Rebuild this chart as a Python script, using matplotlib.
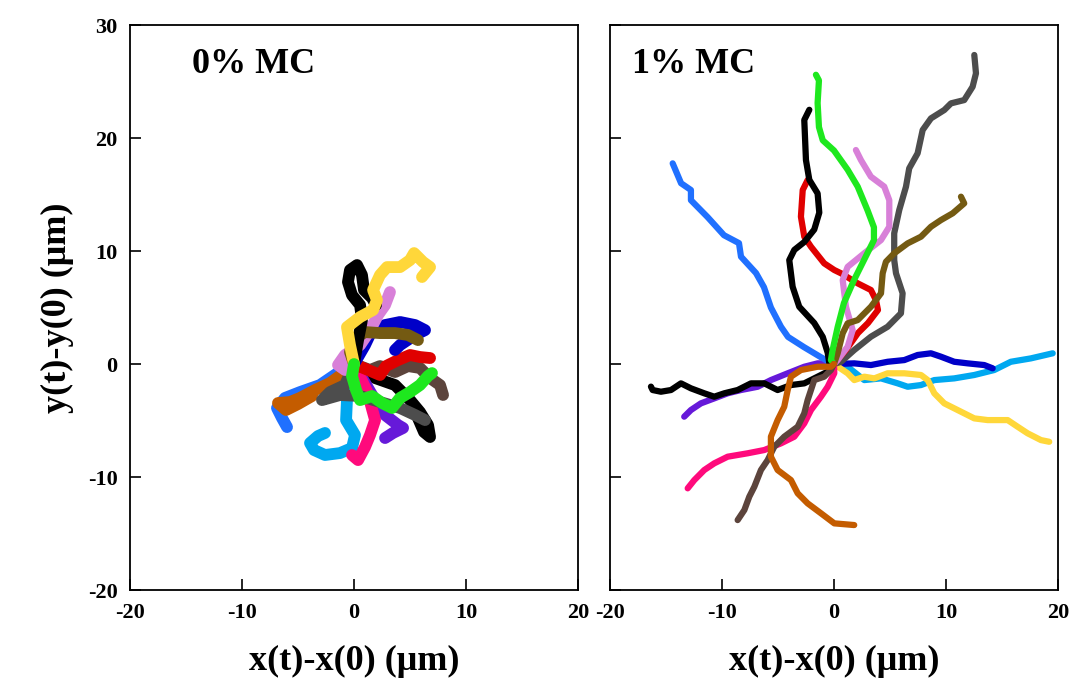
import matplotlib
import matplotlib.pyplot as plt

matplotlib.use("Agg")

# colours used by the tracks
BLUE    = "#2070ff"
BLACK   = "#000000"
RED     = "#e00000"
GREEN   = "#1ee81e"
ORCHID  = "#d880d8"
GRAY    = "#4d4d4d"
OLIVE   = "#745a12"
NAVY    = "#0000c8"
CYAN    = "#00a8f0"
YELLOW  = "#ffd73a"
PURPLE  = "#6619d9"
PINK    = "#ff0a7c"
DBROWN  = "#5c443c"
ORANGE  = "#c45c00"

# ---- 0% MC tracks (um) ----
l_blue_x   = [0, -0.8, -3.04, -4.82, -6.16, -6.88, -6.43, -5.98]
l_blue_y   = [0, -0.35, -1.86, -2.48, -3.0, -3.89, -4.78, -5.58]
l_orange_x = [0, -0.8, -2.14, -3.48, -4.82, -5.71, -6.79, -6.07, -5.0, -3.75]
l_orange_y = [0, -0.71, -1.68, -2.3, -3.0, -3.36, -3.45, -4.07, -3.54, -2.83]
l_black2_x = [0, 1.88, 3.66, 5.0, 5.89, 6.61, 6.79, 6.25, 5.71]
l_black2_y = [0, -1.24, -1.86, -3.19, -4.25, -5.4, -6.46, -6.02, -4.78]
l_purple_x = [0, 1.88, 2.77, 3.93, 4.38, 3.48, 2.77]
l_purple_y = [0, -3.19, -4.51, -5.4, -5.66, -6.1, -6.55]
l_cyan_x   = [0, -0.36, -0.63, -0.71, 0.09, -0.18, -1.25, -2.59, -3.57, -3.93, -3.21, -2.59]
l_cyan_y   = [0, -1.42, -3.19, -4.96, -6.28, -7.43, -7.88, -8.05, -7.61, -6.99, -6.37, -6.1]
l_pink_x   = [0, 1.2, 1.88, 1.43, 0.98, 0.36, -0.18]
l_pink_y   = [0, -2.5, -4.96, -6.28, -7.35, -8.5, -8.05]
l_gray_x   = [0, -0.8, -2.14, -2.86, -1.25, 0.54, 2.32, 4.11, 5.45, 6.34]
l_gray_y   = [0, -1.86, -2.48, -3.19, -2.74, -2.83, -3.36, -3.89, -4.51, -4.96]
l_dbrown_x = [0, 1.43, 2.32, 3.66, 4.82, 5.89, 6.79, 7.68, 7.95]
l_dbrown_y = [0, -0.53, -0.18, -0.71, -0.18, -0.35, -1.24, -1.86, -2.74]
l_red_x    = [0, 2.32, 2.86, 3.93, 5.0, 5.89, 6.79]
l_red_y    = [0, -0.97, -0.18, 0.35, 0.8, 0.62, 0.53]
l_navy_x   = [0, 0.98, 1.61, 2.77, 4.11, 5.45, 6.34, 5.45, 4.11, 3.66]
l_navy_y   = [0, 1.68, 3.0, 3.45, 3.72, 3.45, 3.0, 2.57, 1.68, 1.24]
l_orchid_x = [0, -0.8, -1.43, -0.8, 0.54, 1.43, 2.14, 2.77, 3.21]
l_orchid_y = [0, -0.53, -0.09, 0.8, 1.68, 3.0, 4.34, 5.22, 6.37]
l_olive_x  = [0, -0.36, 0.09, 0.98, 2.32, 3.66, 4.82, 5.71]
l_olive_y  = [0, 1.06, 2.3, 2.83, 2.74, 2.74, 2.57, 2.12]
l_black1_x = [0, 0.36, 0.71, 0.54, -0.18, -0.54, -0.36, 0.27, 0.71, 0.89, 1.61, 1.96]
l_black1_y = [0, 2.12, 3.89, 5.22, 6.1, 7.26, 8.32, 8.76, 7.88, 6.55, 5.84, 5.22]
l_yellow_x = [0, -0.36, -0.63, 0.54, 1.7, 2.05, 1.7, 2.32, 2.95, 4.11, 5.0, 5.36, 6.16, 6.79, 6.07]
l_yellow_y = [0, 1.68, 3.27, 4.16, 4.78, 5.66, 6.55, 7.88, 8.58, 8.58, 9.2, 9.82, 9.03, 8.58, 7.7]
l_green_x  = [0, -0.18, 0.18, 0.54, 1.61, 2.5, 3.39, 4.11, 5.0, 5.89, 6.61, 6.96]
l_green_y  = [0, -1.06, -2.3, -3.19, -2.83, -3.45, -3.89, -3.0, -2.48, -1.86, -1.06, -0.8]

# ---- 1% MC tracks (um) ----
r_purple_x = [0, -0.27, -1.46, -2.65, -4.13, -5.63, -6.81, -8.3, -9.49, -10.69, -11.88, -12.77, -13.37]
r_purple_y = [0, 0.06, 0.06, -0.24, -0.82, -1.42, -2.01, -2.3, -2.59, -3.04, -3.48, -4.07, -4.66]
r_blackl_x = [0, -0.27, -1.46, -2.65, -3.84, -5.03, -6.22, -7.41, -8.6, -9.79, -10.69, -11.58, -12.77,
              -13.66, -14.55, -15.45, -16.19, -16.34]
r_blackl_y = [0, -0.53, -1.12, -1.71, -1.86, -2.3, -1.71, -1.71, -2.3, -2.59, -2.89, -2.59, -2.15,
              -1.71, -2.3, -2.45, -2.3, -2.0]
r_blue_x   = [0, -0.27, -1.16, -2.68, -4.1, -4.73, -5.63, -6.25, -6.96, -8.3, -8.48, -9.82, -11.28,
              -12.77, -12.77, -13.65, -14.4]
r_blue_y   = [0, 0.1, 0.6, 1.5, 2.4, 3.3, 5.0, 6.8, 8.05, 9.5, 10.7, 11.4, 13.0, 14.5, 15.4, 16.0, 17.76]
r_cyan_x   = [0, 1.22, 2.71, 4.2, 5.69, 6.58, 7.77, 8.96, 10.74, 12.53, 14.31, 15.79, 17.58, 19.53]
r_cyan_y   = [0, -0.24, -1.42, -1.27, -1.71, -2.01, -1.86, -1.42, -1.27, -0.97, -0.53, 0.2, 0.5, 0.95]
r_navy_x   = [0, 1.81, 3.3, 4.79, 6.28, 7.47, 8.66, 9.55, 10.74, 11.94, 13.42, 14.17]
r_navy_y   = [0, 0.06, -0.09, 0.2, 0.35, 0.8, 0.95, 0.65, 0.2, 0.06, -0.09, -0.38]
r_yellow_x = [0, 1.22, 1.81, 2.71, 3.6, 4.79, 6.28, 7.77, 8.37, 8.96, 9.85, 11.04, 12.53, 13.72,
              15.51, 16.4, 17.29, 18.48, 19.22]
r_yellow_y = [0, -0.82, -1.42, -1.12, -1.27, -0.82, -0.82, -0.97, -1.42, -2.59, -3.48, -4.07, -4.81,
              -4.96, -4.96, -5.55, -6.13, -6.73, -6.88]
r_gray_x   = [0, 0.63, 1.81, 3.3, 4.79, 5.98, 6.13, 5.54, 5.38, 5.38, 5.83, 6.43, 6.72, 7.47, 7.92,
              8.66, 9.85, 10.45, 11.63, 12.38, 12.68, 12.53]
r_gray_y   = [0, 0.2, 1.24, 2.42, 3.3, 4.49, 6.26, 8.03, 9.2, 11.57, 13.63, 15.69, 17.32, 18.65, 20.71,
              21.74, 22.48, 23.07, 23.36, 24.54, 25.73, 27.35]
r_red_x    = [0, 1.07, 2.14, 3.04, 3.93, 3.75, 3.3, 2.12, 0.63, 0.03, -0.87, -2.05, -2.65, -2.95,
              -2.79, -2.35]
r_red_y    = [0, 1.24, 2.74, 3.63, 4.78, 5.66, 6.55, 7.14, 8.03, 8.32, 8.91, 10.38, 11.27, 13.04,
              15.4, 16.28]
r_orchid_x = [0, 0.33, 1.22, 1.67, 1.07, 0.78, 1.22, 2.7, 4.2, 4.94, 4.94, 4.49, 3.3, 2.41, 1.96]
r_orchid_y = [0, 0.35, 1.53, 3.0, 5.07, 7.43, 8.6, 9.8, 10.97, 12.15, 14.5, 15.7, 16.58, 18.05, 18.94]
r_olive_x  = [0, 0.33, 0.78, 1.22, 2.12, 3.3, 4.2, 4.35, 4.64, 5.38, 6.58, 7.77, 8.66, 9.55, 10.6,
              11.63, 11.34]
r_olive_y  = [0, 0.95, 2.72, 3.6, 3.89, 5.07, 6.26, 8.03, 9.05, 9.8, 10.68, 11.27, 12.15, 12.74,
              13.34, 14.22, 14.81]
r_blacku_x = [0, -0.42, -0.56, -1.0, -1.76, -3.1, -3.69, -3.99, -3.54, -2.65, -1.76, -1.31, -1.46,
              -2.2, -2.5, -2.65, -2.2]
r_blacku_y = [0, 0.1, 1.0, 2.4, 3.63, 5.07, 6.84, 9.2, 10.1, 10.8, 11.9, 13.4, 15.1, 16.3, 18.05,
              21.6, 22.5]
r_green_x  = [0, -0.27, -0.12, 0.33, 0.89, 1.79, 2.68, 3.57, 3.57, 3.0, 2.12, 1.22, 0, -1.0, -1.34,
              -1.46, -1.34, -1.61]
r_green_y  = [0, 0.35, 1.24, 3.27, 5.4, 7.43, 9.2, 10.97, 12.1, 13.6, 15.7, 17.2, 18.9, 19.8, 20.97,
              23.1, 25.1, 25.6]
r_pink_x   = [0, 0.03, -0.56, -1.16, -2.05, -2.65, -3.54, -4.73, -6.22, -7.71, -9.49, -10.69,
              -11.58, -12.47, -13.06]
r_pink_y   = [0, -0.82, -2.01, -2.89, -4.07, -5.25, -6.43, -7.02, -7.61, -7.9, -8.2, -8.79, -9.38,
              -10.27, -11.0]
r_dbrown_x = [0, -0.27, -0.87, -1.76, -2.35, -2.65, -3.24, -4.44, -5.33, -5.92, -6.52, -7.11, -7.56,
              -8.0, -8.6]
r_dbrown_y = [0, -0.53, -1.12, -1.42, -3.19, -4.36, -5.55, -6.43, -7.32, -8.5, -9.38, -10.86,
              -11.74, -12.92, -13.81]
r_orange_x = [0, -0.27, -1.46, -2.95, -3.84, -4.13, -4.44, -5.03, -5.63, -5.63, -5.03, -3.84, -3.24,
              -2.35, -1.16, 0.03, 1.81]
r_orange_y = [0, -0.24, -0.24, -0.53, -1.12, -2.3, -3.78, -4.96, -6.43, -8.2, -9.38, -10.27, -11.44,
              -12.33, -13.21, -14.1, -14.25]

X_TICKS = [-20, -10, 0, 10, 20]
Y_TICKS = [-20, -10, 0, 10, 20, 30]
PANEL_TITLES = ["0% MC", "1% MC"]

left_tracks = [
    (l_blue_x, l_blue_y, BLUE), (l_orange_x, l_orange_y, ORANGE),
    (l_black2_x, l_black2_y, BLACK), (l_purple_x, l_purple_y, PURPLE),
    (l_cyan_x, l_cyan_y, CYAN), (l_pink_x, l_pink_y, PINK),
    (l_gray_x, l_gray_y, GRAY), (l_dbrown_x, l_dbrown_y, DBROWN),
    (l_red_x, l_red_y, RED), (l_navy_x, l_navy_y, NAVY),
    (l_orchid_x, l_orchid_y, ORCHID), (l_olive_x, l_olive_y, OLIVE),
    (l_black1_x, l_black1_y, BLACK), (l_yellow_x, l_yellow_y, YELLOW),
    (l_green_x, l_green_y, GREEN),
]
right_tracks = [
    (r_purple_x, r_purple_y, PURPLE), (r_blackl_x, r_blackl_y, BLACK),
    (r_blue_x, r_blue_y, BLUE), (r_cyan_x, r_cyan_y, CYAN),
    (r_navy_x, r_navy_y, NAVY), (r_yellow_x, r_yellow_y, YELLOW),
    (r_gray_x, r_gray_y, GRAY), (r_red_x, r_red_y, RED),
    (r_orchid_x, r_orchid_y, ORCHID), (r_olive_x, r_olive_y, OLIVE),
    (r_blacku_x, r_blacku_y, BLACK), (r_green_x, r_green_y, GREEN),
    (r_pink_x, r_pink_y, PINK), (r_dbrown_x, r_dbrown_y, DBROWN),
    (r_orange_x, r_orange_y, ORANGE),
]

plt.rcParams["font.family"] = ["Liberation Serif", "DejaVu Serif"]
plt.rcParams["font.weight"] = "bold"
plt.rcParams["axes.unicode_minus"] = False  # plain hyphens, as in the original

fig = plt.figure(figsize=(10.79, 6.88), dpi=100)
fig.patch.set_facecolor("#ffffff")
ax_l = fig.add_axes([0.1205, 0.1424, 0.4152, 0.8212])
ax_r = fig.add_axes([0.5653, 0.1424, 0.4152, 0.8212])

for ax, tracks, lw in [(ax_l, left_tracks, 8.5), (ax_r, right_tracks, 4.5)]:
    for xs, ys, col in tracks:
        ax.plot(xs, ys, color=col, lw=lw, solid_capstyle="round",
                solid_joinstyle="round")
    ax.set_xlim(-20, 20)
    ax.set_ylim(-20, 30)
    ax.set_xticks(X_TICKS)
    ax.set_yticks(Y_TICKS)
    ax.tick_params(direction="in", length=8, width=1.2, labelsize=16,
                   top=False, right=False)
    ax.tick_params(axis="x", pad=9)
    ax.tick_params(axis="y", pad=9)
    for sp in ax.spines.values():
        sp.set_linewidth(1.3)
    for lab in ax.get_xticklabels() + ax.get_yticklabels():
        lab.set_fontweight("bold")
    ax.set_xlabel("x(t)-x(0) (\u03bcm)", fontsize=26, fontweight="bold", labelpad=16)

ax_r.tick_params(axis="y", labelleft=False)
ax_l.set_ylabel("y(t)-y(0) (\u03bcm)", fontsize=26, fontweight="bold", labelpad=10)

# panel labels sit at different offsets in the two panels
for ax, title, xpos in zip([ax_l, ax_r], PANEL_TITLES, [0.138, 0.05]):
    ax.text(xpos, 0.96, title, transform=ax.transAxes, fontsize=26,
            fontweight="bold", ha="left", va="top")

fig.savefig("out.png", dpi=100)
